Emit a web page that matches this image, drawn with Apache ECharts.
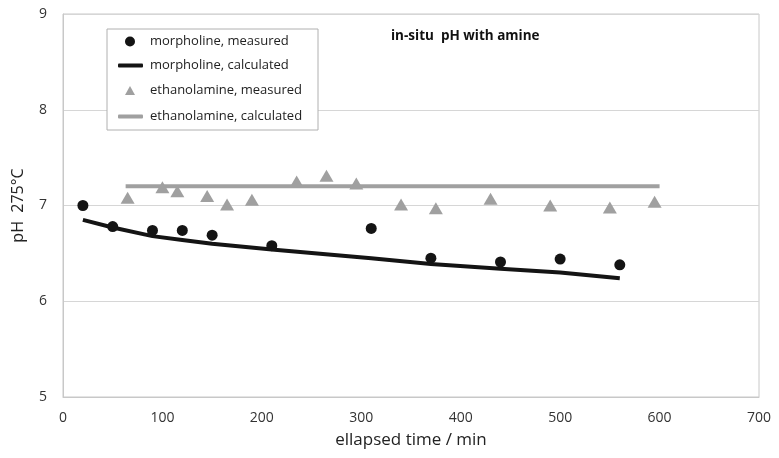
<!DOCTYPE html>
<html>
<head>
<meta charset="utf-8">
<script src="https://cdn.jsdelivr.net/npm/echarts@6/dist/echarts.min.js"></script>
<style>
    html, body { margin: 0; padding: 0; background: #fff; }
    #chart { width: 779px; height: 458px; }
</style>
</head>
<body>
<div id="chart"></div>
<script>
// morpholine, measured
var morphMeasTime = [20, 50, 90, 120, 150, 210, 310, 370, 440, 500, 560];
var morphMeasPH = [7.00, 6.78, 6.74, 6.74, 6.69, 6.58, 6.76, 6.45, 6.41, 6.44, 6.38];

// morpholine, calculated
var morphCalcTime = [20, 50, 90, 120, 150, 210, 310, 370, 440, 500, 560];
var morphCalcPH = [6.85, 6.77, 6.68, 6.64, 6.60, 6.54, 6.45, 6.39, 6.34, 6.30, 6.24];

// ethanolamine, measured
var ethMeasTime = [65, 100, 115, 145, 165, 190, 235, 265, 295, 340, 375, 430, 490, 550, 595];
var ethMeasPH = [7.08, 7.19, 7.15, 7.10, 7.01, 7.06, 7.25, 7.31, 7.23, 7.01, 6.97, 7.07, 7.00, 6.98, 7.04];

// ethanolamine, calculated
var ethCalcTime = [63, 600];
var ethCalcPH = [7.2, 7.2];

var seriesNames = [
    "morpholine, measured",
    "morpholine, calculated",
    "ethanolamine, measured",
    "ethanolamine, calculated"
];

var colorMorph = "#141414";
var colorEth = "#a0a0a0";
var fontFamily = "'Open Sans', sans-serif";

function pairs(xs, ys) {
    var out = [];
    for (var i = 0; i < xs.length; i++) {
        out.push([xs[i], ys[i]]);
    }
    return out;
}

// one legend block per row, so each icon can get its own size
function legendRow(name, left, top, w, h, pad, icon) {
    var row = {
        data: [name],
        left: left,
        top: top,
        padding: 0,
        itemWidth: w,
        itemHeight: h,
        selectedMode: false,
        textStyle: {
            fontFamily: fontFamily,
            fontSize: 13,
            color: "#222",
            padding: [0, 0, 0, pad]
        }
    };
    if (icon) {
        row.icon = icon;
    }
    return row;
}

var chart = echarts.init(document.getElementById("chart"));

var option = {
    animation: false,
    title: {
        text: "in-situ  pH with amine",
        left: 386,
        top: 24,
        textStyle: {
            fontFamily: fontFamily,
            fontSize: 13.5,
            fontWeight: "bold",
            color: "#111"
        }
    },
    grid: {
        left: 63,
        right: 20,
        top: 14,
        bottom: 61,
        show: true,
        borderColor: "#c8c8c8",
        borderWidth: 1
    },
    graphic: [
        {
            type: "rect",
            z: 3,
            shape: { x: 107, y: 29, width: 211, height: 101 },
            style: { fill: "#fff", stroke: "#b0b0b0", lineWidth: 1 }
        }
    ],
    legend: [
        legendRow(seriesNames[0], 125, 35, 10, 10, 10),
        legendRow(seriesNames[1], 118, 59, 25, 4, 2, "roundRect"),
        legendRow(seriesNames[2], 125, 84, 10, 9, 10),
        legendRow(seriesNames[3], 118, 110, 25, 4, 2, "roundRect")
    ],
    xAxis: {
        type: "value",
        min: 0,
        max: 700,
        interval: 100,
        name: "ellapsed time / min",
        nameLocation: "middle",
        nameGap: 35,
        nameTextStyle: { fontFamily: fontFamily, fontSize: 17, color: "#222" },
        axisLine: { show: true, lineStyle: { color: "#c8c8c8" } },
        axisTick: { show: false },
        splitLine: { show: false },
        axisLabel: { margin: 14, fontFamily: fontFamily, fontSize: 14, color: "#333" }
    },
    yAxis: {
        type: "value",
        min: 5,
        max: 9,
        interval: 1,
        name: "pH  275°C",
        nameLocation: "middle",
        nameGap: 37,
        nameTextStyle: { fontFamily: fontFamily, fontSize: 16, color: "#222" },
        axisLine: { show: true, lineStyle: { color: "#c8c8c8" } },
        axisTick: { show: false },
        splitLine: { show: true, lineStyle: { color: "#d6d6d6" } },
        axisLabel: { margin: 16, fontFamily: fontFamily, fontSize: 14, color: "#333" }
    },
    series: [
        {
            name: seriesNames[0],
            type: "scatter",
            symbol: "circle",
            symbolSize: 11,
            itemStyle: { color: colorMorph, opacity: 1 },
            data: pairs(morphMeasTime, morphMeasPH)
        },
        {
            name: seriesNames[1],
            type: "line",
            symbol: "none",
            itemStyle: { color: colorMorph },
            lineStyle: { color: colorMorph, width: 4 },
            data: pairs(morphCalcTime, morphCalcPH)
        },
        {
            name: seriesNames[2],
            type: "scatter",
            symbol: "triangle",
            symbolSize: [14, 12],
            itemStyle: { color: colorEth, opacity: 1 },
            data: pairs(ethMeasTime, ethMeasPH)
        },
        {
            name: seriesNames[3],
            type: "line",
            symbol: "none",
            itemStyle: { color: colorEth },
            lineStyle: { color: colorEth, width: 4 },
            data: pairs(ethCalcTime, ethCalcPH)
        }
    ]
};

chart.setOption(option);
</script>
</body>
</html>
